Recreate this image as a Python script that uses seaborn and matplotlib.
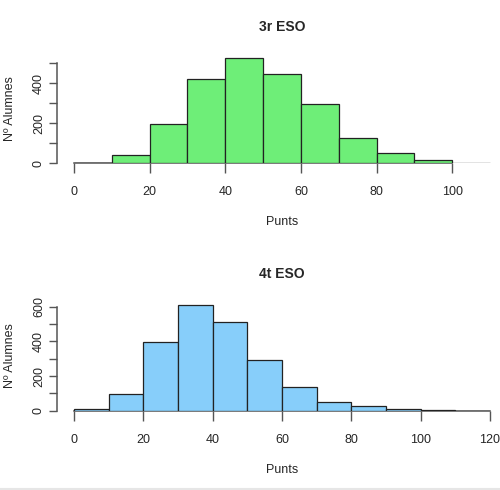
import numpy as np
import pandas as pd
import matplotlib
matplotlib.use('Agg')
import matplotlib.pyplot as plt
import seaborn as sns

# bin edges and counts
edges_3r = [0, 10, 20, 30, 40, 50, 60, 70, 80, 90, 100, 110]
counts_3r = [4, 40, 195, 422, 528, 447, 295, 125, 50, 15, 3]

edges_4t = [0, 10, 20, 30, 40, 50, 60, 70, 80, 90, 100, 110, 120]
counts_4t = [8, 96, 398, 608, 510, 290, 135, 52, 25, 8, 2, 0]

titles = ['3r ESO', '4t ESO']
colors = ['#6EEE78', '#87CEFA']

sns.set_style('white')
plt.rcParams['font.family'] = ['Liberation Sans', 'DejaVu Sans']

fig = plt.figure(figsize=(5, 4.9), dpi=100)
ax1 = fig.add_axes([0.1148, 0.6667, 0.8984, 0.2245])
ax2 = fig.add_axes([0.1148, 0.1618, 0.8984, 0.2245])

panels = [
    (ax1, edges_3r, counts_3r, (-4.4, 114.4), (0, 550), 500, [0, 20, 40, 60, 80, 100]),
    (ax2, edges_4t, counts_4t, (-4.8, 124.8), (0, 634.6), 600, [0, 20, 40, 60, 80, 100, 120]),
]

for i, (ax, edges, counts, xlim, ylim, ymax, xticks) in enumerate(panels):
    mids = [(a + b) / 2 for a, b in zip(edges[:-1], edges[1:])]
    df = pd.DataFrame({'Punts': mids, 'n': counts})
    sns.histplot(data=df, x='Punts', weights='n', bins=edges, color=colors[i],
                 edgecolor='#222222', linewidth=0.9, alpha=1, ax=ax, zorder=3)
    ax.set_xlim(*xlim)
    ax.set_ylim(*ylim)
    sns.despine(ax=ax)
    ax.spines['left'].set_bounds(0, ymax)
    ax.spines['bottom'].set_bounds(xticks[0], xticks[-1])
    for s in ['left', 'bottom']:
        ax.spines[s].set_color('#555555')
        ax.spines[s].set_linewidth(1.1)
    ax.set_xticks(xticks)
    yt = list(range(0, ymax + 1, 100))
    ax.set_yticks(yt)
    ax.set_yticklabels([str(v) if v % 200 == 0 else '' for v in yt],
                       rotation=90, va='center')
    ax.tick_params(axis='x', bottom=True, direction='out', length=7.5, width=1,
                   color='#555555', labelsize=9, pad=9)
    ax.tick_params(axis='y', left=True, direction='out', length=6, width=1,
                   color='#555555', labelsize=9, pad=3)
    ax.set_title(titles[i], fontsize=10, fontweight='bold', pad=16)
    ax.set_xlabel('Punts', fontsize=9, labelpad=13)
    ax.set_ylabel('Nº Alumnes', fontsize=9, labelpad=12)

fig.add_artist(plt.Line2D([0, 1], [0.002, 0.002], color='#e6e6e6', lw=1.5,
                          transform=fig.transFigure))

fig.savefig('out.png', dpi=100)
